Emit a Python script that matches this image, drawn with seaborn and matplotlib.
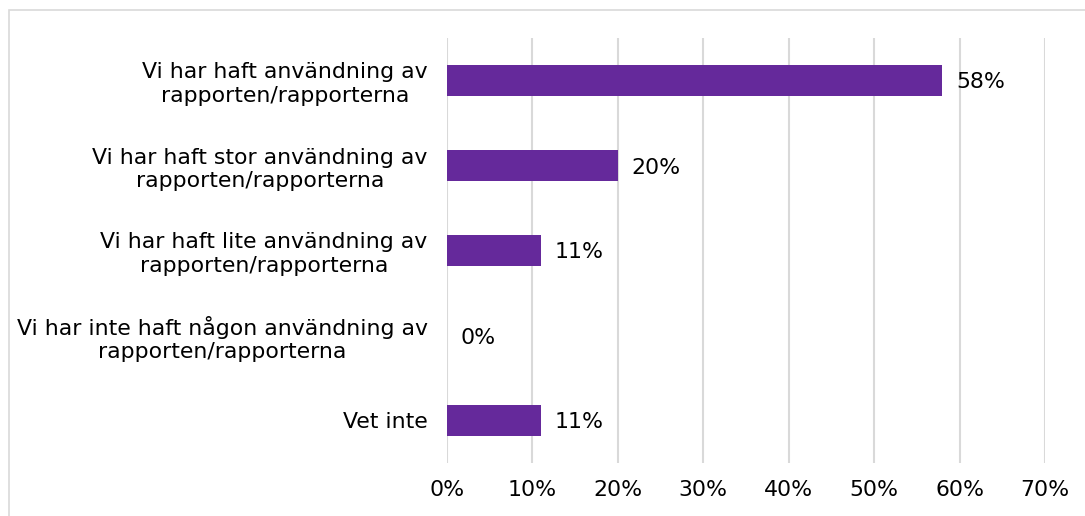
import matplotlib
matplotlib.use("Agg")
import matplotlib.pyplot as plt
import seaborn as sns
import pandas as pd
from matplotlib.patches import Rectangle
from matplotlib.ticker import FuncFormatter

categories = [
    "Vi har haft användning av\nrapporten/rapporterna",
    "Vi har haft stor användning av\nrapporten/rapporterna",
    "Vi har haft lite användning av\nrapporten/rapporterna",
    "Vi har inte haft någon användning av\nrapporten/rapporterna",
    "Vet inte",
]
values = [58, 20, 11, 0, 11]
value_labels = ["58%", "20%", "11%", "0%", "11%"]
xticks = [0, 10, 20, 30, 40, 50, 60, 70]

sns.set_theme(style="white")
plt.rcParams['font.family'] = ['DejaVu Sans']

df = pd.DataFrame({"cat": categories, "val": values})

fig = plt.figure(figsize=(10.85, 5.16), dpi=100)
ax = fig.add_axes([447/1085, 1-463/516, (1045-447)/1085, (463-38)/516])

sns.barplot(data=df, y="cat", x="val", color="#65299B", width=0.36,
            saturation=1, ax=ax, orient="h", linewidth=0)

FS = 15.8
ax.set_xlim(0, 70)
ax.set_xticks(xticks)
ax.xaxis.set_major_formatter(FuncFormatter(lambda v, p: f"{int(v)}%"))
ax.grid(axis="x", color="#D9D9D9", linewidth=1.5)
ax.set_axisbelow(True)
for s in ax.spines.values():
    s.set_visible(False)
ax.set_xlabel("")
ax.set_ylabel("")
ax.tick_params(axis="x", length=0, pad=12, labelsize=FS, labelcolor="black")
ax.tick_params(axis="y", length=0, pad=14, labelsize=FS, labelcolor="black")
for lbl in ax.get_yticklabels():
    lbl.set_multialignment("center")
    lbl.set_linespacing(1.2)

texts = ax.bar_label(ax.containers[0], labels=value_labels, padding=10, fontsize=FS, color="black")
for t in texts:
    t.set_va("center_baseline")

fig.patches.append(Rectangle((9/1085, -0.1), 1.2, 1-10/516+0.1, transform=fig.transFigure,
                             fill=False, edgecolor="#D9D9D9", linewidth=1.2))

fig.savefig("out.png", dpi=100)
